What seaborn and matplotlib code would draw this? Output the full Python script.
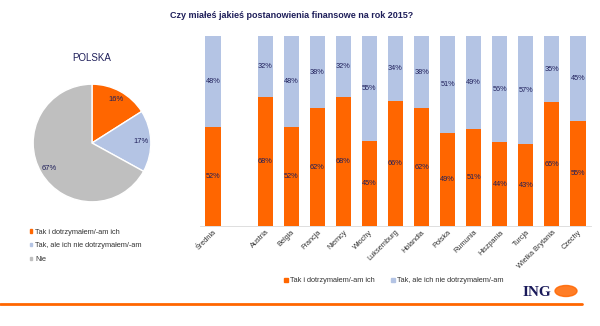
import matplotlib
matplotlib.use("Agg")
import matplotlib.pyplot as plt
import seaborn as sns
import pandas as pd
from matplotlib.patches import Patch, Ellipse

sns.set_theme(style="white")
plt.rcParams['font.family'] = ['Liberation Sans', 'DejaVu Sans']

# ---- data ----
countries = ["Średnia", "Austria", "Belgia", "Francja", "Niemcy", "Włochy", "Luksemburg",
             "Holandia", "Polska", "Rumunia", "Hiszpania", "Turcja", "Wielka Brytania", "Czechy"]
kept = [52, 68, 52, 62, 68, 45, 66, 62, 49, 51, 44, 43, 65, 55]
not_kept = [48, 32, 48, 38, 32, 55, 34, 38, 51, 49, 56, 57, 35, 45]
order = ["Średnia", " "] + countries[1:]

pie_labels = ["Tak i dotrzymałem/-am ich", "Tak, ale ich nie dotrzymałem/-am", "Nie"]
pie_values = [16, 17, 67]

title = "Czy miałeś jakieś postanowienia finansowe na rok 2015?"

ORANGE = "#FF6600"
BLUE = "#B4C4E4"
GRAY = "#BFBFBF"
NAVY = "#1F1F5A"

df = pd.DataFrame({"country": countries, "kept": kept, "not_kept": not_kept})
df["total"] = df["kept"] + df["not_kept"]

fig = plt.figure(figsize=(6.0, 3.26), dpi=100)

# ---- stacked bars ----
ax = fig.add_axes([200/600, 1-226/326, 391/600, 190/326])
sns.barplot(data=df, x="country", y="total", order=order, color=BLUE, width=0.58,
            saturation=1, ax=ax, edgecolor="none")
sns.barplot(data=df, x="country", y="kept", order=order, color=ORANGE, width=0.58,
            saturation=1, ax=ax, edgecolor="none")
ax.set_ylim(0, 100)
ax.set_xlim(-0.5, len(order) - 0.5)
ax.set_xlabel("")
ax.set_ylabel("")
ax.set_yticks([])
for s in ["top", "right", "left"]:
    ax.spines[s].set_visible(False)
ax.spines["bottom"].set_color("#D9D9D9")
ax.spines["bottom"].set_linewidth(0.6)
ax.tick_params(axis="x", length=0, pad=2)
ax.set_xticks(range(len(order)))
ax.set_xticklabels(order, rotation=45, ha="right", rotation_mode="anchor",
                   fontsize=5.3, color="#333333")

for i, c in enumerate(order):
    if c.strip() == "":
        continue
    row = df[df["country"] == c].iloc[0]
    ax.text(i, row["kept"] / 2, f"{row['kept']}%", ha="center", va="center",
            fontsize=5.3, color=NAVY)
    ax.text(i, row["kept"] + row["not_kept"] / 2, f"{row['not_kept']}%", ha="center",
            va="center", fontsize=5.3, color=NAVY)

fig.legend(handles=[Patch(color=ORANGE, label="Tak i dotrzymałem/-am ich"),
                    Patch(color=BLUE, label="Tak, ale ich nie dotrzymałem/-am")],
           loc="center", bbox_to_anchor=(394/600, 1-281/326), ncol=2, frameon=False,
           fontsize=5.3, handlelength=0.5, handleheight=0.5, handletextpad=0.3,
           columnspacing=2.2, labelcolor="#333333")

fig.text(292/600, 1-16/326, title, ha="center", va="center", fontsize=6.5,
         fontweight="bold", color=NAVY)

# ---- pie ----
pax = fig.add_axes([32/600, 1-203/326, 120/600, 120/326])
wedges, texts, autotexts = pax.pie(pie_values, colors=[ORANGE, BLUE, GRAY], startangle=90,
                                   counterclock=False, radius=1,
                                   autopct=lambda p: f"{p:.0f}%", pctdistance=0.84,
                                   wedgeprops=dict(edgecolor="white", linewidth=1.0),
                                   textprops=dict(fontsize=5.5, color=NAVY))
pax.set_xlim(-1.02, 1.02)
pax.set_ylim(-1.02, 1.02)
fig.text(92/600, 1-58/326, "POLSKA", ha="center", va="center", fontsize=7, color=NAVY)

fig.legend(handles=[Patch(color=c, label=l) for c, l in zip([ORANGE, BLUE, GRAY], pie_labels)],
           loc="upper left", bbox_to_anchor=(26/600, 1-225/326), frameon=False,
           fontsize=5.3, handlelength=0.35, handleheight=0.35, handletextpad=0.4,
           labelspacing=0.9, labelcolor="#333333", borderpad=0)

# ---- footer ----
fig.add_artist(plt.Line2D([0, 582/600], [1-304/326, 1-304/326], color=ORANGE, lw=2))
fig.text(537/600, 1-292/326, "ING", ha="center", va="center", fontsize=11,
         fontweight="bold", family=["Liberation Serif", "DejaVu Serif"], color="#1A1A5A")
fig.add_artist(Ellipse((566/600, 1-291/326), 22/600, 11/326, color=ORANGE, alpha=0.85))

fig.savefig("out.png", dpi=100)
